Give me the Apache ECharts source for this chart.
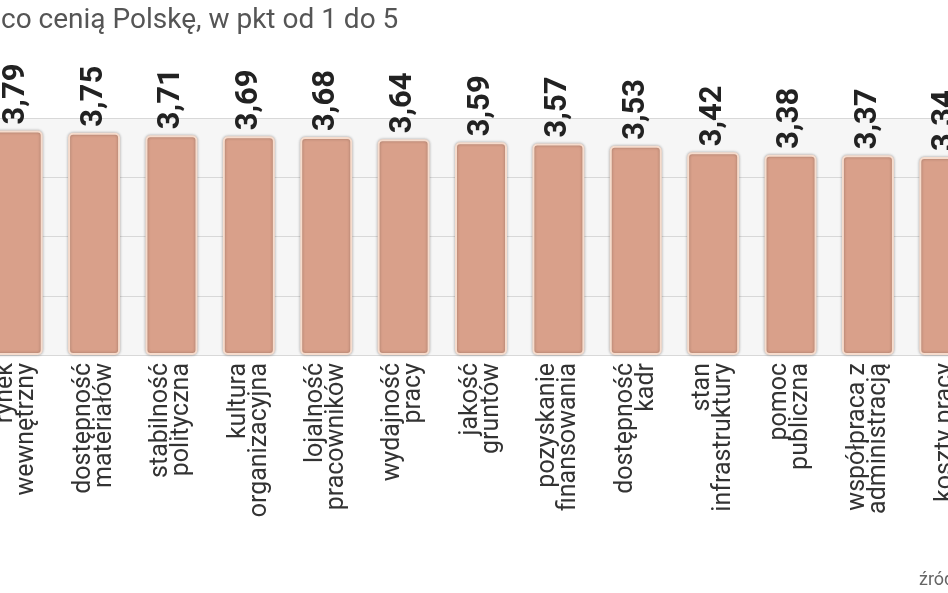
<!DOCTYPE html><html><head><meta charset="utf-8"><script src="https://cdn.jsdelivr.net/npm/echarts@6/dist/echarts.min.js"></script></head><body style="margin:0;overflow:hidden"><div id="c" style="width:1006px;height:593px;margin-left:-22px"></div><script>
const categories=["rynek\nwewnętrzny","dostępność\nmateriałów","stabilność\npolityczna","kultura\norganizacyjna","lojalność\npracowników","wydajność\npracy","jakość\ngruntów","pozyskanie\nfinansowania","dostępność\nkadr","stan\ninfrastruktury","pomoc\npubliczna","współpraca z\nadministracją","koszty pracy"];
const values=[3.79,3.75,3.71,3.69,3.68,3.64,3.59,3.57,3.53,3.42,3.38,3.37,3.34];
const c=echarts.init(document.getElementById('c'));
c.setOption({animation:false,backgroundColor:'#fff',
title:[{text:'co cenią Polskę, w pkt od 1 do 5',left:18,top:2,textStyle:{fontFamily:'Roboto',fontWeight:'normal',fontSize:28,color:'#555'}},
{text:'źródło',left:936,top:566,textStyle:{fontFamily:'Roboto',fontWeight:'normal',fontSize:18,color:'#666'}}],
grid:{left:0,right:0,top:118,bottom:238,show:true,backgroundColor:'#f6f6f6',borderWidth:0},
xAxis:{type:'category',data:categories,axisLine:{show:false},axisTick:{show:false},
axisLabel:{rotate:90,margin:8,fontFamily:'Roboto',fontSize:25,lineHeight:21,color:'#333',interval:0}},
yAxis:{type:'value',min:0,max:4,interval:1,axisLabel:{show:false},axisLine:{show:false},axisTick:{show:false},splitLine:{lineStyle:{color:'#d8d8d8'}}},
series:[{type:'bar',data:values,barWidth:52,
itemStyle:{color:'#d9a08a',borderColor:'#f6dccd',borderWidth:2,borderRadius:4,shadowColor:'rgba(0,0,0,0.3)',shadowBlur:3},
label:{show:true,position:'top',rotate:90,align:'left',verticalAlign:'middle',distance:6,fontFamily:'Roboto',fontWeight:'bold',fontSize:31,color:'#222',formatter:p=>p.value.toFixed(2).replace('.',',')}}]});
</script></body></html>
